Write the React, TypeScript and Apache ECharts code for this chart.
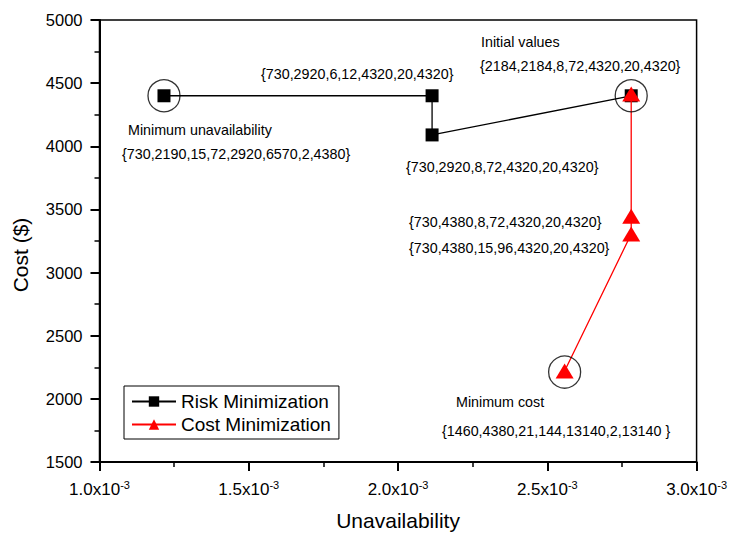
import React, { useEffect, useRef } from "react";
import * as echarts from "echarts";

// ---- data ----
const seriesNames = ["Risk Minimization", "Cost Minimization"];
const riskX = [1.216e-3, 2.114e-3, 2.114e-3, 2.781e-3];
const riskY = [4400, 4400, 4090, 4400];
const costX = [2.781e-3, 2.781e-3, 2.781e-3, 2.558e-3];
const costY = [4415, 3445, 3305, 2220];
const circledX = [1.216e-3, 2.781e-3, 2.558e-3];
const circledY = [4400, 4400, 2212];
const xMin = 1.0e-3;
const xMax = 3.0e-3;
const xStep = 0.5e-3;
const yMin = 1500;
const yMax = 5000;
const yStep = 500;
const xTitle = "Unavailability";
const yTitle = "Cost ($)";
const annotationTexts = [
  "Initial values",
  "{2184,2184,8,72,4320,20,4320}",
  "{730,2920,6,12,4320,20,4320}",
  "Minimum unavailability",
  "{730,2190,15,72,2920,6570,2,4380}",
  "{730,2920,8,72,4320,20,4320}",
  "{730,4380,8,72,4320,20,4320}",
  "{730,4380,15,96,4320,20,4320}",
  "Minimum cost",
  "{1460,4380,21,144,13140,2,13140 }",
];

// ---- layout (pixel positions of annotation texts: left x, middle y) ----
const annotationPos: [number, number][] = [
  [481, 42],
  [480, 66],
  [261, 74],
  [128, 130],
  [122, 154],
  [406, 167],
  [409, 222],
  [409, 248],
  [456, 402],
  [442, 431],
];

const FONT = "'Liberation Sans', Arial, Helvetica, sans-serif";

function fmtX(v: number): string {
  const m = Math.round(v * 1e4) / 10;
  return `{a|${m.toFixed(1)}x10}{b|-3}`;
}

export default function App() {
  const ref = useRef<HTMLDivElement>(null);
  useEffect(() => {
    if (!ref.current) return;
    const chart = echarts.init(ref.current, null, { renderer: "svg" });
    const option: any = {
      animation: false,
      backgroundColor: "#fff",
      grid: {
        left: 99.5,
        right: 31.5,
        top: 20,
        bottom: 72,
        show: true,
        borderColor: "#000",
        borderWidth: 1.5,
        backgroundColor: "transparent",
      },
      legend: {
        data: seriesNames,
        orient: "vertical",
        left: 124,
        top: 386,
        borderColor: "#000",
        borderWidth: 1,
        padding: [6, 8, 5, 7],
        itemGap: 4,
        itemWidth: 44,
        itemHeight: 13,
        textStyle: { fontSize: 19, color: "#000", fontFamily: FONT },
        backgroundColor: "#fff",
      },
      xAxis: {
        type: "value",
        min: xMin,
        max: xMax,
        interval: xStep,
        name: xTitle,
        nameLocation: "middle",
        nameGap: 48,
        nameTextStyle: { fontSize: 21, color: "#000", fontFamily: FONT },
        axisLine: { show: true, lineStyle: { color: "#000", width: 2 } },
        axisTick: { show: true, length: 9, lineStyle: { color: "#000", width: 2 } },
        minorTick: { show: true, splitNumber: 2, length: 5, lineStyle: { color: "#000", width: 1.5 } },
        splitLine: { show: false },
        axisLabel: {
          margin: 17,
          formatter: fmtX,
          rich: {
            a: { fontSize: 17, color: "#000", fontFamily: FONT },
            b: { fontSize: 11, color: "#000", fontFamily: FONT, padding: [0, 0, 10, 0] },
          },
        },
      },
      yAxis: {
        type: "value",
        min: yMin,
        max: yMax,
        interval: yStep,
        name: yTitle,
        nameLocation: "middle",
        nameGap: 69,
        nameTextStyle: { fontSize: 21, color: "#000", fontFamily: FONT, padding: [0, 28, 0, 0] },
        axisLine: { show: true, lineStyle: { color: "#000", width: 2 } },
        axisTick: { show: true, length: 9, lineStyle: { color: "#000", width: 2 } },
        minorTick: { show: true, splitNumber: 2, length: 5, lineStyle: { color: "#000", width: 1.5 } },
        splitLine: { show: false },
        axisLabel: {
          margin: 17,
          fontSize: 16.5,
          color: "#000",
          fontFamily: FONT,
          formatter: (v: number) => String(v),
        },
      },
      series: [
        {
          name: seriesNames[0],
          type: "line",
          data: riskX.map((x, i) => [x, riskY[i]]),
          symbol: "rect",
          symbolSize: 13,
          itemStyle: { color: "#000" },
          lineStyle: { color: "#000", width: 1.3 },
          z: 3,
        },
        {
          name: seriesNames[1],
          type: "line",
          data: costX.map((x, i) => [x, costY[i]]),
          symbol: "triangle",
          symbolSize: [18, 15],
          itemStyle: { color: "#ff0000" },
          lineStyle: { color: "#ff0000", width: 1.3 },
          z: 4,
        },
        {
          name: "circled",
          type: "scatter",
          data: circledX.map((x, i) => [x, circledY[i]]),
          symbol: "circle",
          symbolSize: 32,
          itemStyle: { color: "rgba(0,0,0,0)", borderColor: "#000", borderWidth: 1.3 },
          silent: true,
          z: 5,
        },
      ],
      graphic: annotationTexts.map((t, i) => ({
        type: "text",
        x: annotationPos[i][0],
        y: annotationPos[i][1],
        silent: true,
        style: {
          text: t,
          fill: "#000",
          font: `14.3px ${FONT}`,
          textAlign: "left",
          textVerticalAlign: "middle",
        },
      })),
    };
    chart.setOption(option);
    return () => chart.dispose();
  }, []);
  return (
    <div
      ref={ref}
      style={{ position: "absolute", left: 0, top: 0, width: 730, height: 536 }}
    />
  );
}
